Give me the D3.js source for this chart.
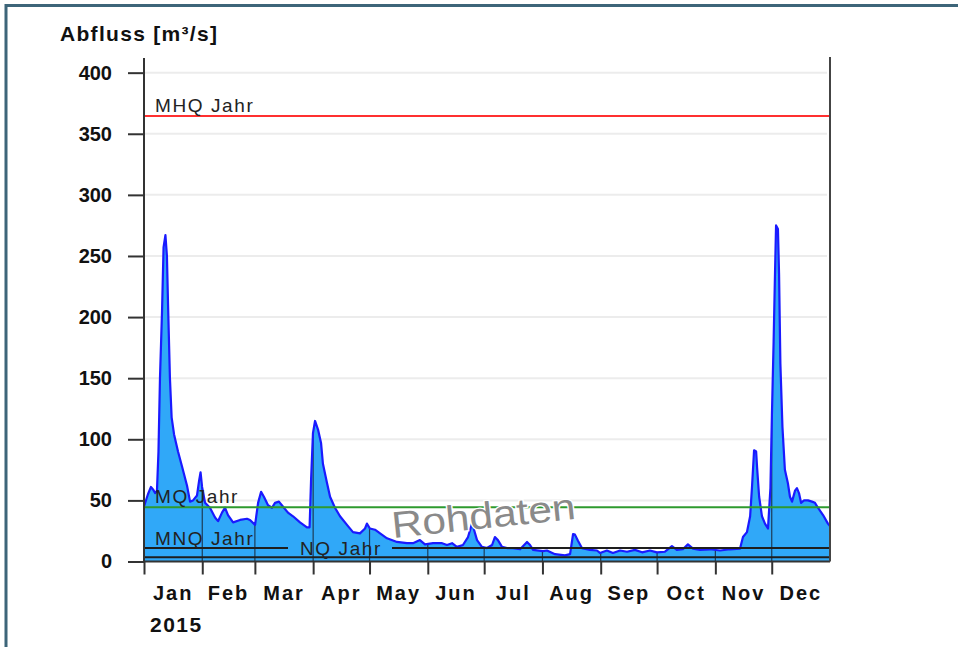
<!DOCTYPE html>
<html>
<head>
<meta charset="utf-8">
<script src="https://cdn.jsdelivr.net/npm/d3@7"></script>
<style>
    body { margin: 0; background: #fff; }
    svg { display: block; font-family: "Liberation Sans", Arial, sans-serif; }
</style>
</head>
<body>
<div id="chart"></div>
<script>

// day of year (1 = 1 Jan 2015, fractions = time of day) and discharge in m³/s
let days = [1, 3.1, 4.7, 5.8, 6.9, 7.9, 8.7, 9.5, 10.6, 11.4, 12.4, 13.2, 13.8, 14.8, 15.7, 17, 19.1, 21.2, 23.9, 25.5,
    27.1, 29.2, 30.3, 31.1, 31.9, 33.5, 36.1, 38.8, 40.4, 42.5, 44.1, 45.7, 48.4, 52.1, 55.8, 57.4, 60.1, 61.7, 63.3, 64.8,
    67, 69.1, 70.7, 72.8, 74.9, 77.6, 80.3, 84, 87.7, 89.1, 89.9, 90.9, 92, 93.6, 95.2, 96.2, 98.4, 100, 102.6, 105.3,
    109, 112.2, 115.9, 118.6, 119.6, 121.2, 123.9, 126.6, 130.3, 135.6, 140.9, 144.1, 147.8, 150.5, 154.8, 159.6, 162.2, 164.9, 167.5, 170.7,
    173.4, 175.5, 176.6, 178.2, 180.8, 183.5, 186.2, 187.7, 189.3, 191.5, 194.1, 197.3, 201.1, 204.8, 206.4, 208, 213.3, 215.4, 219.7, 225,
    227.7, 229.3, 230.3, 231.9, 234, 238.3, 242, 243.6, 247.3, 250.5, 254.3, 258, 262.2, 266, 270.2, 273.9, 278.2, 281.9, 284.5, 287.7,
    290.4, 293.1, 296.8, 302.1, 307.5, 312.8, 318.1, 319.7, 321.8, 323.5, 324.5, 325.6, 326.7, 327.2, 328.3, 329.8, 331.4, 333, 334.3, 335.1,
    336, 336.7, 337.3, 338.3, 338.9, 339.6, 340.7, 342, 343.6, 344.7, 345.8, 347.4, 348.4, 349.5, 350.6, 352.2, 354.3, 356.4, 358, 359.6,
    362.3, 364.9, 366];
let flow = [45, 55, 61, 59, 56, 58, 90, 150, 205, 257, 267, 250, 210, 150, 118, 104, 90, 78, 62, 49,
    50, 54, 66, 73, 61, 48, 44, 36, 33, 40, 44, 38, 32, 34, 35, 34, 30, 48, 57, 53,
    46, 44, 48, 49, 45, 40, 37, 32, 28, 28, 67, 105, 115, 108, 97, 80, 64, 53, 44, 37,
    30, 24, 23, 27, 31, 27, 26, 23, 19, 16, 15, 15, 17.5, 14, 15, 15, 13.5, 15, 12, 13.5,
    20, 31, 26, 17.5, 12, 11, 13.5, 20, 17.5, 12, 11, 11, 10, 16, 13.5, 9.5, 8.5, 9, 6, 5,
    6, 22.5, 22, 17, 11, 9.5, 9, 7, 9, 7, 9, 8, 9.5, 7.5, 9, 7.5, 8, 12.5, 9.5, 10,
    14, 10.5, 9.5, 10, 9, 10, 10.5, 20, 24, 37, 61, 91, 90, 77, 53, 37, 31, 27, 60, 120,
    180, 233, 275, 272, 235, 162, 110, 75, 64, 53, 49, 58, 60, 56, 48, 50, 50, 49, 48, 44,
    38, 31, 29];

// yearly reference values
let refLabels = ["MHQ Jahr", "MQ Jahr", "MNQ Jahr", "NQ Jahr"];
let refValues = [364.5, 44.3, 11, 3.5];
let refColors = ["#ff3030", "#2e9a2e", "#1e1e1e", "#1e1e1e"];

let yTicks = [0, 50, 100, 150, 200, 250, 300, 350, 400];
let monthNames = ["Jan", "Feb", "Mar", "Apr", "May", "Jun", "Jul", "Aug", "Sep", "Oct", "Nov", "Dec"];
let yearLabel = "2015";
let yTitle = "Abfluss [m³/s]";
let watermark = "Rohdaten";

let W = 958, H = 647;
let margin = {top: 58, right: 128, bottom: 85.5, left: 144};

let svg = d3.select("#chart").append("svg")
    .attr("width", W)
    .attr("height", H);

// frame
svg.append("line").attr("x1", 5).attr("x2", W).attr("y1", 5.5).attr("y2", 5.5)
    .attr("stroke", "#3d6579").attr("stroke-width", 3);
svg.append("line").attr("x1", 6).attr("x2", 6).attr("y1", 4).attr("y2", H)
    .attr("stroke", "#3d6579").attr("stroke-width", 3);

let start = new Date(2015, 0, 1);
let toDate = d => new Date(start.getTime() + (d - 1) * 864e5);
let data = days.map((d, i) => ({date: toDate(d), value: flow[i]}));

let x = d3.scaleTime()
    .domain([start, new Date(2016, 0, 1)])
    .range([margin.left, W - margin.right]);
let y = d3.scaleLinear()
    .domain([0, 412])
    .range([H - margin.bottom, margin.top]);

// horizontal grid
svg.append("g").selectAll("line").data(yTicks.slice(1))
    .enter().append("line")
    .attr("x1", x.range()[0]).attr("x2", x.range()[1] - 3)
    .attr("y1", d => y(d)).attr("y2", d => y(d))
    .attr("stroke", "#ececec").attr("stroke-width", 2);

let area = d3.area()
    .x(d => x(d.date))
    .y0(y(0))
    .y1(d => y(d.value));
let line = d3.line()
    .x(d => x(d.date))
    .y(d => y(d.value));

svg.append("clipPath").attr("id", "areaClip")
    .append("path").attr("d", area(data));

svg.append("path")
    .attr("d", area(data))
    .attr("fill", "#30a8f8");

// month separators only show inside the filled area
let months = d3.timeMonth.range(start, new Date(2016, 0, 1));
svg.append("g").attr("clip-path", "url(#areaClip)")
    .selectAll("line").data(months.slice(1))
    .enter().append("line")
    .attr("x1", d => x(d)).attr("x2", d => x(d))
    .attr("y1", y(0)).attr("y2", margin.top)
    .attr("stroke", "#1d3c58").attr("stroke-width", 1.2);

svg.append("path")
    .attr("d", line(data))
    .attr("fill", "none")
    .attr("stroke", "#1a1aff")
    .attr("stroke-width", 2.2)
    .attr("stroke-linejoin", "round");

// reference lines + labels
refValues.forEach((v, i) => {
    let yy = y(v);
    if (i === 2) {
        // MNQ line is interrupted by the NQ label
        svg.append("line").attr("x1", x.range()[0]).attr("x2", 288)
            .attr("y1", yy).attr("y2", yy)
            .attr("stroke", refColors[i]).attr("stroke-width", 2);
        svg.append("line").attr("x1", 392).attr("x2", x.range()[1])
            .attr("y1", yy).attr("y2", yy)
            .attr("stroke", refColors[i]).attr("stroke-width", 2);
    } else {
        svg.append("line").attr("x1", x.range()[0]).attr("x2", x.range()[1])
            .attr("y1", yy).attr("y2", yy)
            .attr("stroke", refColors[i]).attr("stroke-width", 2);
    }
});

let labelPos = [
    {x: 155, y: y(refValues[0]) - 4},
    {x: 155, y: y(refValues[1]) - 4},
    {x: 155, y: y(refValues[2]) - 3},
    {x: 300, y: y(refValues[3]) - 2}
];
svg.append("g").selectAll("text").data(refLabels)
    .enter().append("text")
    .attr("x", (d, i) => labelPos[i].x)
    .attr("y", (d, i) => labelPos[i].y)
    .attr("font-size", 19)
    .attr("letter-spacing", 1.6)
    .attr("fill", "#222")
    .text(d => d);

// watermark
svg.append("text")
    .attr("transform", "translate(393,538) rotate(-6) scale(1.15,1)")
    .attr("font-size", 37)
    .attr("fill", "#8a8a8a")
    .attr("stroke", "#fff")
    .attr("stroke-width", 2.5)
    .attr("paint-order", "stroke")
    .text(watermark);

// axes
let yAxis = d3.axisLeft(y)
    .tickValues(yTicks)
    .tickSize(16)
    .tickPadding(16);
let gy = svg.append("g")
    .attr("transform", `translate(${margin.left},0)`)
    .call(yAxis);
gy.select(".domain").attr("stroke", "#333").attr("stroke-width", 2)
    .attr("d", `M0,${margin.top}V${y(0)}`);
gy.selectAll(".tick line").attr("stroke", "#333").attr("stroke-width", 2);
gy.selectAll(".tick text")
    .attr("font-size", 20).attr("font-weight", "bold").attr("fill", "#111")
    .attr("font-family", "'Liberation Sans', Arial, sans-serif");

let xAxis = d3.axisBottom(x)
    .tickValues(months)
    .tickSize(13)
    .tickFormat("");
let gx = svg.append("g")
    .attr("transform", `translate(0,${y(0)})`)
    .call(xAxis);
gx.select(".domain").attr("stroke", "#333").attr("stroke-width", 2)
    .attr("d", `M${x.range()[0]},0H${x.range()[1]}`);
gx.selectAll(".tick line").attr("stroke", "#333").attr("stroke-width", 2);

// right frame line
svg.append("line")
    .attr("x1", x.range()[1]).attr("x2", x.range()[1])
    .attr("y1", margin.top - 1).attr("y2", y(0))
    .attr("stroke", "#444").attr("stroke-width", 2);

// month labels centred in each month
svg.append("g").selectAll("text").data(months)
    .enter().append("text")
    .attr("x", d => (x(d) + x(d3.timeMonth.offset(d, 1))) / 2)
    .attr("y", 600)
    .attr("text-anchor", "middle")
    .attr("font-size", 20)
    .attr("font-weight", "bold")
    .attr("letter-spacing", 2)
    .attr("fill", "#111")
    .text((d, i) => monthNames[i]);

svg.append("text")
    .attr("x", 150).attr("y", 632)
    .attr("font-size", 21).attr("font-weight", "bold").attr("letter-spacing", 1.5)
    .attr("fill", "#111")
    .text(yearLabel);

svg.append("text")
    .attr("x", 60).attr("y", 41)
    .attr("font-size", 21).attr("font-weight", "bold").attr("letter-spacing", 1.3)
    .attr("fill", "#111")
    .text(yTitle);

</script>
</body>
</html>
